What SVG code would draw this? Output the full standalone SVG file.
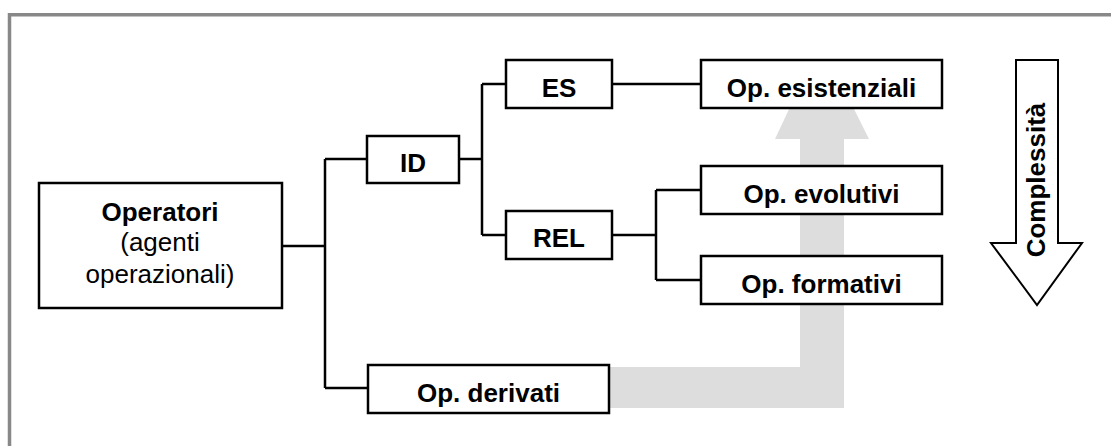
<svg xmlns="http://www.w3.org/2000/svg" width="1111" height="446" viewBox="0 0 1111 446">
<style>
.box{fill:#fff;stroke:#000;stroke-width:2.5}
.con{fill:none;stroke:#000;stroke-width:2.5}
.t{font-family:"Liberation Sans",Arial,sans-serif;font-size:26px;text-anchor:middle;fill:#000}
.b{font-weight:bold}
</style>
<rect width="1111" height="446" fill="#fff"/>
<g id="frame" fill="none" stroke="#888" stroke-width="3.5">
<path d="M9.5 446 V14.8 H1111"/>
</g>
<g id="flow" fill="#dddddd">
<path d="M609 367 H844 V408 H609 Z"/>
<path d="M800 139 H844 V408 H800 Z"/>
<path d="M775 139 L869 139 L852 105 L791 105 Z"/>
</g>
<g id="connectors" class="con">
<path class="con" d="M282 246 H325 M325 159 V388 M325 159 H367 M325 388 H368"/>
<path class="con" d="M459 159 H482 M482 84 V235 M482 84 H506 M482 235 H506"/>
<path class="con" d="M612 84 H701"/>
<path class="con" d="M612 235 H656 M656 190 V280 M656 190 H701 M656 280 H701"/>
</g>
<g id="operatori">
<rect class="box" x="39" y="183" width="243" height="125"/>
<text class="t b" x="160" y="221">Operatori</text>
<text class="t" x="160" y="251">(agenti</text>
<text class="t" x="160" y="283">operazionali)</text>
</g>
<g id="id">
<rect class="box" x="367" y="136" width="92" height="47"/>
<text class="t b" x="413" y="171.5">ID</text>
</g>
<g id="es">
<rect class="box" x="506" y="60" width="106" height="48"/>
<text class="t b" x="559" y="96.5">ES</text>
</g>
<g id="rel">
<rect class="box" x="506" y="211" width="106" height="48"/>
<text class="t b" x="559" y="247">REL</text>
</g>
<g id="esistenziali">
<rect class="box" x="701" y="60" width="241" height="48"/>
<text class="t b" x="821.5" y="96.5">Op. esistenziali</text>
</g>
<g id="evolutivi">
<rect class="box" x="701" y="166" width="241" height="48"/>
<text class="t b" x="821.5" y="203">Op. evolutivi</text>
</g>
<g id="formativi">
<rect class="box" x="701" y="256" width="241" height="48"/>
<text class="t b" x="821.5" y="293">Op. formativi</text>
</g>
<g id="derivati">
<rect class="box" x="368" y="365" width="241" height="48"/>
<text class="t b" x="488.5" y="401.5">Op. derivati</text>
</g>
<g id="complessita">
<path d="M1016 60 H1058 V243 H1082 L1037 305 L991 243 H1016 Z" fill="#fff" stroke="#000" stroke-width="2"/>
<text class="t b" transform="translate(1045 180) rotate(-90)" x="0" y="0">Complessità</text>
</g>
</svg>
